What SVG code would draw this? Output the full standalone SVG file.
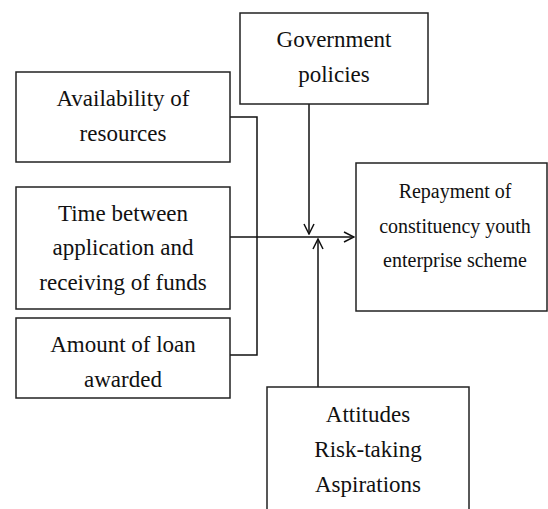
<svg xmlns="http://www.w3.org/2000/svg" width="548" height="509" viewBox="0 0 548 509">
<style>
.box{fill:#fff;stroke:#222;stroke-width:1.5}
.t{font-family:'Liberation Serif','DejaVu Serif',serif;font-size:23px;fill:#111;text-anchor:middle}
.s{font-size:20px}
.c{fill:none;stroke:#111;stroke-width:1.5}
</style>
<defs>
<marker id="ah" viewBox="0 0 12 12" refX="11" refY="6" markerWidth="12" markerHeight="12" markerUnits="userSpaceOnUse" orient="auto">
<path d="M1,1 L11,6 L1,11" fill="none" stroke="#111" stroke-width="1.5"/>
</marker>
</defs>
<g id="connectors">
<polyline class="c" points="230,117 257,117 257,355 230,355"/>
<line class="c" x1="230" y1="237" x2="354" y2="237" marker-end="url(#ah)"/>
<line class="c" x1="309" y1="104" x2="309" y2="234" marker-end="url(#ah)"/>
<line class="c" x1="318" y1="387" x2="318" y2="239" marker-end="url(#ah)"/>
</g>
<g id="availability">
<rect class="box" x="16" y="72" width="214" height="90"/>
<text class="t" x="123" y="106">Availability of</text>
<text class="t" x="123" y="141">resources</text>
</g>
<g id="time">
<rect class="box" x="16" y="187" width="214" height="122"/>
<text class="t" x="123" y="221">Time between</text>
<text class="t" x="123" y="255">application and</text>
<text class="t" x="123" y="290">receiving of funds</text>
</g>
<g id="amount">
<rect class="box" x="16" y="318" width="214" height="80"/>
<text class="t" x="123" y="352">Amount of loan</text>
<text class="t" x="123" y="387">awarded</text>
</g>
<g id="government">
<rect class="box" x="240" y="13" width="188" height="91"/>
<text class="t" x="334" y="47">Government</text>
<text class="t" x="334" y="82">policies</text>
</g>
<g id="repayment">
<rect class="box" x="356" y="163" width="191" height="148"/>
<text class="t s" x="455" y="198">Repayment of</text>
<text class="t s" x="455" y="233">constituency youth</text>
<text class="t s" x="455" y="267">enterprise scheme</text>
</g>
<g id="attitudes">
<rect class="box" x="267" y="387" width="202" height="140"/>
<text class="t" x="368" y="422">Attitudes</text>
<text class="t" x="368" y="457">Risk-taking</text>
<text class="t" x="368" y="492">Aspirations</text>
</g>
</svg>
